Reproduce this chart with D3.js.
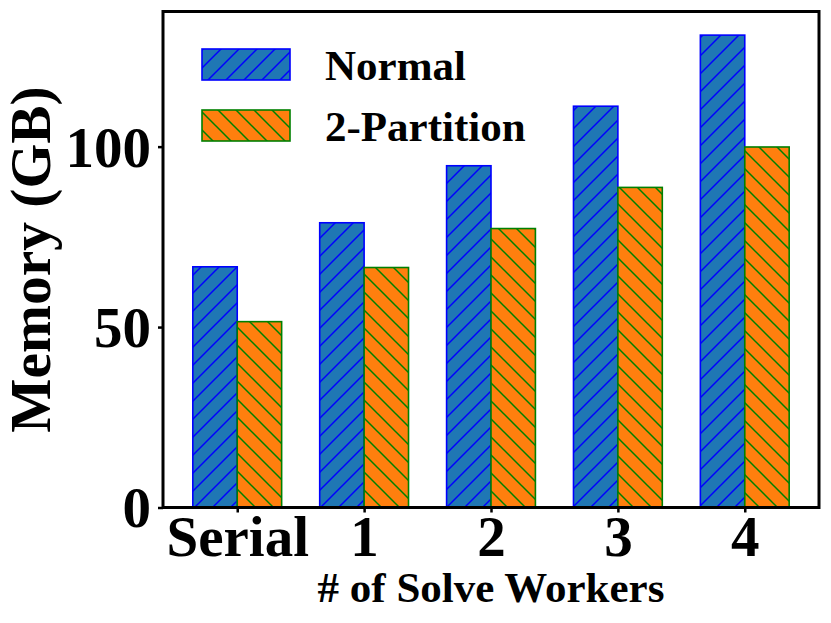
<!DOCTYPE html>
<html>
<head>
<meta charset="utf-8">
<script src="https://cdn.jsdelivr.net/npm/d3@7"></script>
<style>
  html, body { margin: 0; padding: 0; background: #fff; }
  svg { display: block; }
  text { font-family: "Liberation Serif", "Times New Roman", serif; font-weight: bold; fill: #000; }
</style>
</head>
<body>
<svg id="chart" width="831" height="623"></svg>
<script>
const categories = ["Serial", "1", "2", "3", "4"];
const seriesNames = ["Normal", "2-Partition"];
const normalValues = [66.7, 78.9, 94.7, 111.2, 130.9];
const partitionValues = [51.5, 66.5, 77.3, 88.7, 99.9];
const yTicks = [0, 50, 100];
const seriesFill = ["#1f77b4", "#ff7f0e"];
const seriesEdge = ["#0000ff", "#008000"];

const svg = d3.select("#chart");
const plot = { left: 163, right: 819, top: 11.5, bottom: 507.5 };
const barW = 0.35;
const yMax = 130.9 * 1.05;

const x = d3.scaleLinear().domain([-0.585, categories.length - 1 + 0.585]).range([plot.left, plot.right]);
const y = d3.scaleLinear().domain([0, yMax]).range([plot.bottom, plot.top]);

// hatch patterns
const defs = svg.append("defs");
const P = 18;
function hatch(id, fill, edge, forward) {
  const p = defs.append("pattern").attr("id", id).attr("patternUnits", "userSpaceOnUse")
    .attr("width", P).attr("height", P);
  p.append("rect").attr("width", P).attr("height", P).attr("fill", fill);
  const d = forward
    ? `M0,${P} L${P},0 M-2,2 L2,-2 M${P-2},${P+2} L${P+2},${P-2}`
    : `M0,0 L${P},${P} M-2,${P-2} L2,${P+2} M${P-2},-2 L${P+2},2`;
  p.append("path").attr("d", d).attr("stroke", edge).attr("stroke-width", 1.5).attr("fill", "none");
}
hatch("h0", seriesFill[0], seriesEdge[0], true);
hatch("h1", seriesFill[1], seriesEdge[1], false);

const series = [normalValues, partitionValues];
series.forEach((vals, s) => {
  svg.append("g").selectAll("rect").data(vals).join("rect")
    .attr("x", (d, i) => x(i + (s === 0 ? -barW : 0)))
    .attr("y", d => y(d))
    .attr("width", x(barW) - x(0))
    .attr("height", d => y(0) - y(d))
    .attr("fill", `url(#h${s})`)
    .attr("stroke", seriesEdge[s])
    .attr("stroke-width", 1.6);
});

// axes
const xAxis = d3.axisBottom(x).tickValues(d3.range(categories.length))
  .tickFormat(i => categories[i]).tickSize(5).tickPadding(8);
const gx = svg.append("g").attr("transform", `translate(0,${plot.bottom})`).call(xAxis);
gx.select(".domain").remove();
gx.selectAll(".tick line").attr("stroke", "#000").attr("stroke-width", 2.5);
gx.selectAll(".tick text").attr("font-size", 57).attr("dy", null).attr("y", 48)
  .style("font-family", '"Liberation Serif", serif').style("font-weight", "bold");

const yAxis = d3.axisLeft(y).tickValues(yTicks).tickSize(5).tickPadding(8);
const gy = svg.append("g").attr("transform", `translate(${plot.left},0)`).call(yAxis);
gy.select(".domain").remove();
gy.selectAll(".tick line").attr("stroke", "#000").attr("stroke-width", 2.5);
gy.selectAll(".tick text").attr("font-size", 57).attr("dy", "0.34em").attr("x", -12)
  .style("font-family", '"Liberation Serif", serif').style("font-weight", "bold");

// frame
svg.append("rect").attr("x", plot.left).attr("y", plot.top)
  .attr("width", plot.right - plot.left).attr("height", plot.bottom - plot.top)
  .attr("fill", "none").attr("stroke", "#000").attr("stroke-width", 3);

// axis labels
svg.append("text").attr("x", (plot.left + plot.right) / 2).attr("y", 602)
  .attr("text-anchor", "middle").attr("font-size", 43).text("# of Solve Workers");
svg.append("text").attr("transform", `translate(50,${(plot.top + plot.bottom) / 2}) rotate(-90)`)
  .attr("text-anchor", "middle").attr("font-size", 57.5).text("Memory (GB)");

// legend
const leg = svg.append("g");
seriesNames.forEach((name, s) => {
  const yy = 49 + s * 61;
  leg.append("rect").attr("x", 202).attr("y", yy).attr("width", 88).attr("height", 31)
    .attr("fill", `url(#h${s})`).attr("stroke", seriesEdge[s]).attr("stroke-width", 1.6);
  leg.append("text").attr("x", 325).attr("y", yy + 31).attr("font-size", 43).text(name);
});
</script>
</body>
</html>
